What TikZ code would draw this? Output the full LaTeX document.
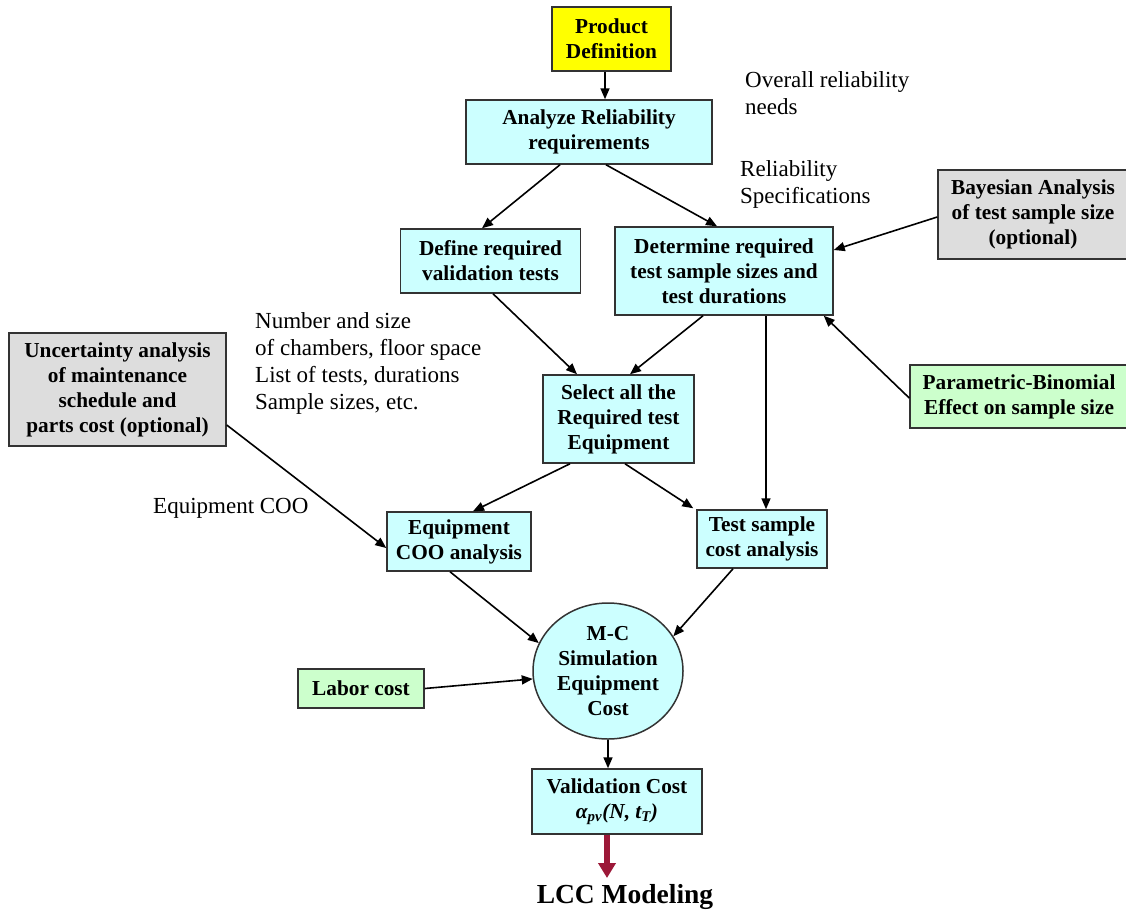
\documentclass[tikz,border=0pt]{standalone}
\usepackage{fontspec}
\setmainfont{Liberation Serif}
\usetikzlibrary{arrows.meta,shapes.geometric,calc}

\definecolor{boxcyan}{HTML}{CCFFFF}
\definecolor{boxgreen}{HTML}{CCFFCC}
\definecolor{boxgrey}{HTML}{DDDDDD}
\definecolor{boxyellow}{HTML}{FFFF00}
\definecolor{edgegrey}{HTML}{333333}
\definecolor{lccred}{HTML}{9C1838}

\tikzset{
  procbox/.style={draw=edgegrey, line width=1.5pt, fill=boxcyan, align=center,
    inner sep=2pt, font=\bfseries\fontsize{21.3}{25}\selectfont},
  startbox/.style={procbox, fill=boxyellow},
  optbox/.style={procbox, fill=boxgrey},
  inbox/.style={procbox, fill=boxgreen},
  simcircle/.style={procbox, ellipse},
  note/.style={align=left, inner sep=0pt, anchor=north west,
    font=\fontsize{23}{27}\selectfont},
  flow/.style={line width=1.6pt, -{Triangle[length=11pt,width=9pt]}},
  outflow/.style={line width=6pt, draw=lccred,
    -{Triangle[length=15pt,width=17pt]}}
}

\begin{document}
\begin{tikzpicture}[x=1pt,y=-1pt]
\useasboundingbox[fill=white] (0,0) rectangle (1126,911);

% process boxes
\node[startbox, minimum width=119pt, minimum height=64pt] (prod) at (611.5,39)
  {Product\\Definition};
\node[procbox, minimum width=246pt, minimum height=64pt] (analyze) at (589,132)
  {Analyze Reliability\\requirements};
\node[procbox, minimum width=180pt, minimum height=64pt] (define) at (490.5,261)
  {Define required\\validation tests};
\node[procbox, minimum width=218pt, minimum height=88pt] (determine) at (724,271)
  {Determine required\\test sample sizes and\\test durations};
\node[procbox, minimum width=151pt, minimum height=88pt] (select) at (618.5,419)
  {Select all the\\Required test\\Equipment};
\node[procbox, minimum width=144pt, minimum height=59pt] (eqcoo) at (459,541.5)
  {Equipment\\COO analysis};
\node[procbox, minimum width=130pt, minimum height=58pt] (testcost) at (762,539)
  {Test sample\\cost analysis};
\node[simcircle, minimum width=150pt, minimum height=136pt] (circ) at (608,671)
  {M-C\\Simulation\\Equipment\\Cost};
\node[procbox, minimum width=170pt, minimum height=65pt] (valid) at (617,801.5)
  {Validation Cost\\{\itshape α\textsubscript{pv}(N, t\textsubscript{T})}};

% side inputs
\node[optbox, minimum width=190pt, minimum height=89pt] (bayes) at (1033,214.5)
  {Bayesian Analysis\\of test sample size\\(optional)};
\node[inbox, minimum width=218pt, minimum height=63pt] (param) at (1019,396.5)
  {Parametric-Binomial\\Effect on sample size};
\node[optbox, minimum width=217pt, minimum height=113pt] (uncert) at (117.5,389.5)
  {Uncertainty analysis\\of maintenance\\schedule and\\parts cost (optional)};
\node[inbox, minimum width=126pt, minimum height=39pt] (labor) at (361,688.5)
  {Labor cost};

% final output
\node[font=\bfseries\fontsize{27.5}{31}\selectfont, anchor=base, inner sep=0pt] (lcc)
  at (625,903) {LCC Modeling};
\coordinate (redtip) at (607,878);

% annotations
\node[note] (n1) at (745,71) {Overall reliability\\needs};
\node[note] (n2) at (740,160) {Reliability\\Specifications};
\node[note] (n3) at (255,312) {Number and size\\of chambers, floor space\\List of tests, durations\\Sample sizes, etc.};
\node[note, anchor=base west] (n4) at (153,513) {Equipment COO};

% connectors
\draw[flow] ($(prod.south)+(-6.5,0)$) -- ($(analyze.north)+(16,0)$);
\draw[flow] ($(analyze.south)+(-29,0)$) -- ($(define.north)+(-8.5,0)$);
\draw[flow] ($(analyze.south)+(17,0)$) -- ($(determine.north)+(-7,0)$);
\draw[flow] ($(bayes.west)+(0,2.5)$) -- ($(determine.east)+(0,-21)$);
\draw[flow] ($(define.south)+(2.5,0)$) -- ($(select.north)+(-41.5,0)$);
\draw[flow] ($(determine.south)+(-21,0)$) -- ($(select.north)+(11.5,0)$);
\draw[flow] ($(determine.south)+(42,0)$) -- ($(testcost.north)+(4,0)$);
\draw[flow] ($(param.west)+(0,1.5)$) -- ($(determine.south east)+(-10,0)$);
\draw[flow] ($(uncert.east)+(0,35.5)$) -- ($(eqcoo.west)+(0,6.5)$);
\draw[flow] ($(select.south)+(-48.5,0)$) -- ($(eqcoo.north)+(14,0)$);
\draw[flow] ($(select.south)+(6.5,0)$) -- ($(testcost.north west)+(-3,-1)$);
\draw[flow] ($(eqcoo.south)+(-9,0)$) -- (circ.158);
\draw[flow] ($(testcost.south)+(-29,0)$) -- (circ.28);
\draw[flow] (labor.east) -- (circ.186);
\draw[flow] (circ.south) -- ($(valid.north)+(-9,0)$);
\draw[outflow] ($(valid.south)+(-10,0)$) -- (redtip);
\end{tikzpicture}
\end{document}
